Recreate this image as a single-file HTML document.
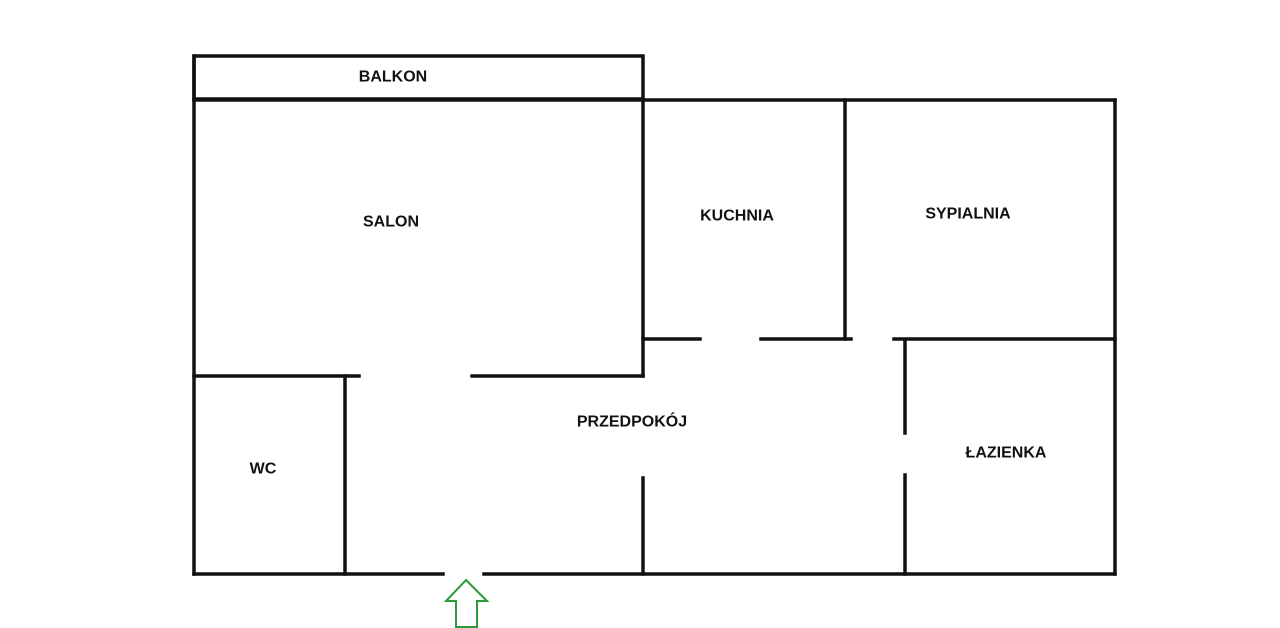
<!DOCTYPE html>
<html><head><meta charset="utf-8"><style>
html,body{margin:0;padding:0;background:#fff;}
svg{display:block}
text{font-family:"Liberation Sans",Arial,sans-serif;font-weight:bold;font-size:16px;fill:#111;text-anchor:middle;dominant-baseline:central}
</style></head><body>
<svg width="1280" height="628" viewBox="0 0 1280 628" xmlns="http://www.w3.org/2000/svg">
<g stroke="#111" stroke-width="3.5" fill="none" stroke-linecap="square">
<rect x="194" y="56" width="449" height="43"/>
<line x1="194" y1="100" x2="1115" y2="100"/>
<line x1="194" y1="56" x2="194" y2="574"/>
<line x1="1115" y1="100" x2="1115" y2="574"/>
<line x1="194" y1="574" x2="443" y2="574"/>
<line x1="484" y1="574" x2="1115" y2="574"/>
<line x1="643" y1="100" x2="643" y2="376"/>
<line x1="194" y1="376" x2="359" y2="376"/>
<line x1="472" y1="376" x2="643" y2="376"/>
<line x1="345" y1="376" x2="345" y2="574"/>
<line x1="845" y1="100" x2="845" y2="339"/>
<line x1="643" y1="339" x2="700" y2="339"/>
<line x1="761" y1="339" x2="851" y2="339"/>
<line x1="894" y1="339" x2="1115" y2="339"/>
<line x1="905" y1="340" x2="905" y2="433"/>
<line x1="905" y1="475" x2="905" y2="574"/>
<line x1="643" y1="478" x2="643" y2="574"/>
</g>
<polygon points="466,580 487,601 477,601 477,627 456,627 456,601 446,601" fill="none" stroke="#2a9a3a" stroke-width="2"/>
<text x="393" y="77">BALKON</text>
<text x="391" y="222">SALON</text>
<text x="737" y="216">KUCHNIA</text>
<text x="968" y="214">SYPIALNIA</text>
<text x="632" y="422">PRZEDPOKÓJ</text>
<text x="263" y="469">WC</text>
<text x="1006" y="453">ŁAZIENKA</text>
</svg>
</body></html>
